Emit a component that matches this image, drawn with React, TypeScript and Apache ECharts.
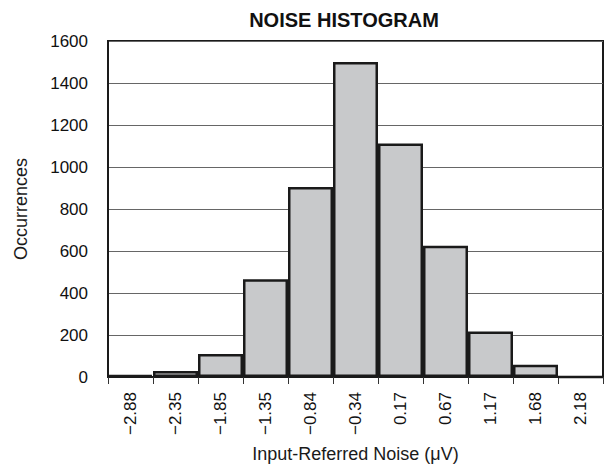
import React, { useEffect, useRef } from "react";
import * as echarts from "echarts";

const categories = ["−2.88", "−2.35", "−1.85", "−1.35", "−0.84", "−0.34", "0.17", "0.67", "1.17", "1.68", "2.18"];
const occurrences = [10, 28, 110, 465, 905, 1500, 1112, 625, 217, 58, 0];
const yTicks = { min: 0, max: 1600, interval: 200 };

const FONT = "'Liberation Sans', Arial, Helvetica, sans-serif";

export default function App() {
  const ref = useRef<HTMLDivElement>(null);
  useEffect(() => {
    if (!ref.current) return;
    const chart = echarts.init(ref.current, null, { renderer: "svg" });
    chart.setOption({
      animation: false,
      backgroundColor: "#ffffff",
      textStyle: { fontFamily: FONT },
      title: {
        text: "NOISE HISTOGRAM",
        left: 339,
        textAlign: "center",
        top: 5,
        textStyle: { fontFamily: FONT, fontSize: 20, fontWeight: "bold", color: "#111" },
      },
      grid: {
        left: 108,
        right: 4,
        top: 41,
        bottom: 93,
        show: true,
        borderColor: "#1a1a1a",
        borderWidth: 2,
        backgroundColor: "transparent",
      },
      xAxis: {
        type: "category",
        data: categories,
        boundaryGap: true,
        name: "Input-Referred Noise (μV)",
        nameLocation: "middle",
        nameGap: 68,
        nameTextStyle: { fontFamily: FONT, fontSize: 18, color: "#1a1a1a" },
        axisLine: { show: true, lineStyle: { color: "#1a1a1a", width: 2 } },
        axisTick: { show: true, alignWithLabel: false, length: 7, lineStyle: { color: "#333", width: 1 } },
        axisLabel: {
          rotate: 90,
          margin: 15,
          interval: 0,
          fontFamily: FONT,
          fontSize: 17,
          color: "#111",
        },
        splitLine: { show: false },
      },
      yAxis: {
        type: "value",
        min: yTicks.min,
        max: yTicks.max,
        interval: yTicks.interval,
        name: "Occurrences",
        nameLocation: "middle",
        nameGap: 78,
        nameTextStyle: { fontFamily: FONT, fontSize: 18, color: "#1a1a1a" },
        axisLine: { show: true, lineStyle: { color: "#1a1a1a", width: 2 } },
        axisTick: { show: false },
        axisLabel: {
          margin: 20,
          fontFamily: FONT,
          fontSize: 17,
          color: "#111",
          formatter: (v: number) => String(v),
        },
        splitLine: { show: true, lineStyle: { color: "#666", width: 1 } },
      },
      series: [
        {
          type: "bar",
          data: occurrences,
          barWidth: "100%",
          barCategoryGap: "0%",
          itemStyle: { color: "#c8c9cb", borderColor: "#1a1a1a", borderWidth: 2.5 },
          z: 3,
        },
      ],
    });
    return () => chart.dispose();
  }, []);
  return (
    <div
      ref={ref}
      style={{ position: "fixed", left: 0, top: 0, width: 607, height: 470, background: "#fff" }}
    />
  );
}
